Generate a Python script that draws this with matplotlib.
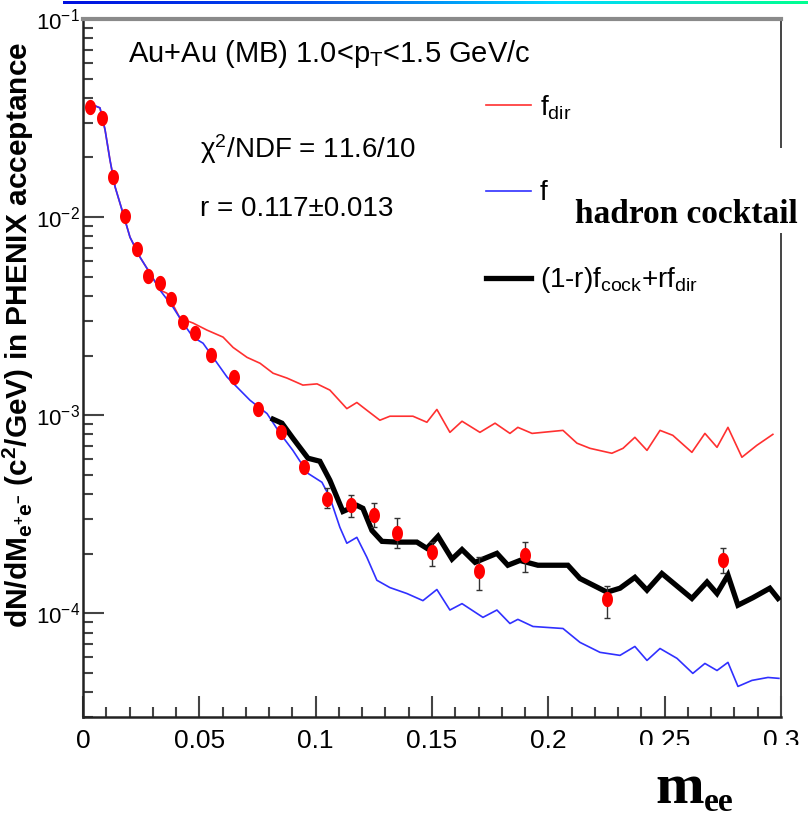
import matplotlib
matplotlib.use('Agg')
import matplotlib.pyplot as plt
import numpy as np
from matplotlib import font_manager
from matplotlib.ticker import FixedLocator, FixedFormatter, LogLocator, NullFormatter
from matplotlib.patches import Rectangle
from matplotlib.colors import LinearSegmentedColormap

# ---------------- data ----------------
# data points (red circles)
data_x = [0.003, 0.008, 0.013, 0.018, 0.023, 0.028, 0.033, 0.038, 0.043, 0.048,
          0.055, 0.065, 0.075, 0.085, 0.095, 0.105, 0.115, 0.125, 0.135, 0.150,
          0.170, 0.190, 0.225, 0.275]
data_y = [0.036, 0.0316, 0.0159, 0.0101, 0.0069, 0.00503, 0.00464, 0.00386, 0.00295, 0.0026,
          0.00201, 0.00156, 0.00107, 0.00082, 0.000546, 0.00038, 0.000351, 0.000313, 0.000254, 0.000203,
          0.000163, 0.000196, 0.000118, 0.000185]
err_lo = [0, 0, 0, 0, 0, 0, 0, 0, 0, 0,
          0, 0, 0, 0, 0, 0.000041, 0.000045, 0.000041, 0.000041, 0.000030,
          0.000032, 0.000035, 0.0000236, 0.000026]
err_hi = [0, 0, 0, 0, 0, 0, 0, 0, 0, 0,
          0, 0, 0, 0, 0, 0.000047, 0.000043, 0.000047, 0.000048, 0.000025,
          0.000029, 0.000033, 0.000020, 0.000028]

# hadron cocktail (blue)
cock_x = [0.0043, 0.0073, 0.0095, 0.0116, 0.0138, 0.0168, 0.0202, 0.0245, 0.0288, 0.0331,
          0.0387, 0.0430, 0.0473, 0.0516, 0.0559, 0.0619, 0.0718, 0.0791, 0.0847, 0.0902,
          0.0967, 0.1027, 0.1061, 0.1104, 0.1134, 0.1177, 0.1220, 0.1263, 0.1319, 0.1392,
          0.1461, 0.1521, 0.1577, 0.1629, 0.1719, 0.1779, 0.1835, 0.1869, 0.1934, 0.2063,
          0.2136, 0.2222, 0.2308, 0.2372, 0.2424, 0.2480, 0.2553, 0.2621, 0.2673, 0.2725,
          0.2772, 0.2815, 0.2875, 0.2944, 0.2991]
cock_y = [0.0368, 0.0356, 0.0275, 0.0194, 0.0142, 0.01084, 0.00792, 0.00628, 0.00521, 0.00428,
          0.00351, 0.00292, 0.00248, 0.00231, 0.00196, 0.00156, 0.00119, 0.00102, 0.00081, 0.000665,
          0.000509, 0.000459, 0.000385, 0.000272, 0.000226, 0.000242, 0.000192, 0.000147, 0.000135, 0.000126,
          0.000116, 0.000132, 0.000104, 0.000112, 0.0000955, 0.000104, 0.0000889, 0.0000933, 0.0000859, 0.0000839,
          0.0000714, 0.0000636, 0.0000614, 0.0000681, 0.0000579, 0.0000665, 0.0000593, 0.0000498, 0.0000559, 0.0000515,
          0.0000566, 0.0000428, 0.0000459, 0.0000475, 0.000047]

# direct photon (red)
dir_x = [0.0043, 0.0073, 0.0095, 0.0116, 0.0138, 0.0168, 0.0202, 0.0245, 0.0288, 0.0331,
         0.0361, 0.0417, 0.0473, 0.0533, 0.0602, 0.0645, 0.0705, 0.0761, 0.0817, 0.0877,
         0.0945, 0.1006, 0.1061, 0.1134, 0.1177, 0.1220, 0.1276, 0.1319, 0.1418, 0.1478,
         0.1521, 0.1577, 0.1629, 0.1706, 0.1771, 0.1835, 0.1869, 0.1930, 0.2063, 0.2123,
         0.2179, 0.2273, 0.2321, 0.2372, 0.2424, 0.2480, 0.2535, 0.2617, 0.2673, 0.2725,
         0.2772, 0.2832, 0.2896, 0.2965]
dir_y = [0.0368, 0.0356, 0.0275, 0.0194, 0.0142, 0.01084, 0.00792, 0.00628, 0.00521, 0.00428,
         0.00413, 0.00309, 0.00292, 0.00269, 0.00248, 0.0022, 0.00196, 0.00183, 0.00163, 0.00154,
         0.00142, 0.00144, 0.00134, 0.00108, 0.00116, 0.00106, 0.000944, 0.000989, 0.000989, 0.000922,
         0.00107, 0.00082, 0.000933, 0.00082, 0.000912, 0.00081, 0.000869, 0.00081, 0.000839, 0.000723,
         0.000681, 0.000643, 0.000681, 0.000774, 0.000665, 0.000839, 0.000792, 0.00065, 0.00081, 0.000689,
         0.000869, 0.000614, 0.000705, 0.000801]

# fit (black)
fit_x = [0.0817, 0.0855, 0.0902, 0.0967, 0.1018, 0.1061, 0.1117, 0.1177, 0.1203, 0.1242,
         0.1285, 0.1349, 0.1435, 0.1478, 0.1526, 0.1586, 0.1629, 0.1685, 0.1779, 0.1826,
         0.1878, 0.1955, 0.2084, 0.2136, 0.2252, 0.2308, 0.2372, 0.2424, 0.2488, 0.2617,
         0.2682, 0.2725, 0.2772, 0.2815, 0.2879, 0.2952, 0.2987]
fit_y = [0.000955, 0.000912, 0.000766, 0.000607, 0.000586, 0.00047, 0.000327, 0.000351, 0.000339, 0.000262,
         0.000231, 0.000229, 0.000229, 0.000213, 0.000245, 0.000188, 0.00021, 0.000181, 0.000201, 0.000175,
         0.000185, 0.000175, 0.000175, 0.00015, 0.000128, 0.000134, 0.000152, 0.000131, 0.000159, 0.000119,
         0.000144, 0.000126, 0.000156, 0.00011, 0.00012, 0.000134, 0.000119]

xtick_vals = [0, 0.05, 0.1, 0.15, 0.2, 0.25, 0.3]
xtick_labels = ['0', '0.05', '0.1', '0.15', '0.2', '0.25', '0.3']
legend_labels = ['f$_{\\mathrm{dir}}$', 'f', '(1-r)f$_{\\mathrm{cock}}$+rf$_{\\mathrm{dir}}$']

# ---------------- fonts ----------------
names = {f.name for f in font_manager.fontManager.ttflist}
def pick(*cands):
    for c in cands:
        if c in names:
            return c
    return 'DejaVu Sans'
SANS = pick('Liberation Sans', 'Arial', 'DejaVu Sans')
NARROW = pick('Liberation Sans Narrow', 'DejaVu Sans Condensed', 'Liberation Sans')
SERIF = pick('Liberation Serif', 'DejaVu Serif')

plt.rcParams['font.family'] = [SANS, 'DejaVu Sans']
plt.rcParams['mathtext.fontset'] = 'custom'
plt.rcParams['mathtext.rm'] = SANS
plt.rcParams['mathtext.it'] = SANS + ':italic'
plt.rcParams['mathtext.bf'] = SANS + ':bold'

# ---------------- figure ----------------
W, H = 808, 819
fig = plt.figure(figsize=(W / 100, H / 100), dpi=100)
ax = fig.add_axes([83 / W, 1 - 717 / H, 698 / W, 698 / H])

red = '#ff3030'
blue = '#3030ff'

l_dir, = ax.plot(dir_x, dir_y, color=red, lw=1.2, zorder=2)
l_cock, = ax.plot(cock_x, cock_y, color=blue, lw=1.2, zorder=2)
l_fit, = ax.plot(fit_x, fit_y, color='black', lw=3.8, zorder=3, solid_joinstyle='miter')

dx = np.array(data_x); dy = np.array(data_y)
elo = np.array(err_lo); ehi = np.array(err_hi)
m = (elo > 0) | (ehi > 0)
ax.errorbar(dx[m], dy[m], yerr=[elo[m], ehi[m]], fmt='none', ecolor='#333333',
            elinewidth=1.0, capsize=2.5, capthick=1.0, zorder=4)
t = np.linspace(0, 2 * np.pi, 41)
ell = list(zip(0.72 * np.cos(t), np.sin(t)))
ax.plot(dx, dy, linestyle='none', marker=ell, markersize=11, color='#ff0000',
        markeredgewidth=0, zorder=5)

ax.set_yscale('log')
ax.set_xlim(0, 0.3)
ax.set_ylim(3e-5, 0.1)

ax.xaxis.set_major_locator(FixedLocator(xtick_vals))
ax.xaxis.set_major_formatter(FixedFormatter(xtick_labels))
ax.xaxis.set_minor_locator(FixedLocator(np.arange(0, 0.3001, 0.01)))
ax.yaxis.set_major_locator(LogLocator(base=10, numticks=10))
ax.yaxis.set_minor_locator(LogLocator(base=10, subs=np.arange(2, 10), numticks=20))
ax.yaxis.set_minor_formatter(NullFormatter())

ax.tick_params(which='both', direction='in', top=False, right=False, color='#444444', width=1.5)
ax.tick_params(which='major', length=15)
ax.tick_params(which='minor', length=7.5)
ax.tick_params(axis='x', which='major', pad=9, labelsize=19)
ax.tick_params(axis='y', which='major', pad=2, labelsize=16)
for lab in ax.get_xticklabels():
    lab.set_fontfamily([NARROW, 'DejaVu Sans'])
for lab in ax.get_yticklabels():
    lab.set_fontfamily([NARROW, 'DejaVu Sans'])

ax.spines['top'].set(color='#8a8a8a', linewidth=3.0)
ax.spines['left'].set(color='#222222', linewidth=1.8)
ax.spines['bottom'].set(color='#222222', linewidth=1.8)
ax.spines['right'].set(color='#444444', linewidth=1.4)

ax.set_ylabel('dN/dM$_{\\mathbf{e^{+}e^{-}}}$ (c$^{\\mathbf{2}}$/GeV) in PHENIX acceptance',
              fontsize=21.5, fontweight='bold')
ax.yaxis.label.set_va('center')
ax.yaxis.set_label_coords((18 - 83) / 698, 1 - (335 - 19) / 698)

# annotations
fig.text(128 / W, 1 - 62 / H, 'Au+Au (MB) 1.0<p$_{\\mathrm{T}}$<1.5 GeV/c', fontsize=21, va='baseline')
fig.text(200 / W, 1 - 158 / H, '$\\mathrm{\\chi}^{2}$/NDF = 11.6/10', fontsize=20, va='baseline')
fig.text(200 / W, 1 - 216 / H, 'r = 0.117\u00b10.013', fontsize=20, va='baseline')

ax.legend([l_dir, l_cock, l_fit], legend_labels, loc='upper left',
          bbox_to_anchor=((486 - 83) / 698, 1 - (93 - 19) / 698), frameon=False,
          fontsize=20, handlelength=1.62, handletextpad=0.32, labelspacing=2.12,
          borderpad=0, borderaxespad=0)

# overlay boxes and text pasted on the figure
fig.add_artist(Rectangle((560 / W, 1 - 233 / H), 248 / W, 85 / H, transform=fig.transFigure,
                         facecolor='white', edgecolor='none', zorder=5))
fig.text(575 / W, 1 - 223 / H, 'hadron cocktail', fontsize=24, fontweight='bold',
         family=[SERIF, 'DejaVu Serif'], va='baseline', zorder=6)
fig.add_artist(Rectangle((600 / W, 0), 208 / W, 74 / H, transform=fig.transFigure,
                         facecolor='white', edgecolor='none', zorder=5))
fig.text(655 / W, 1 - 803 / H, 'm', fontsize=42, fontweight='bold',
         family=[SERIF, 'DejaVu Serif'], va='baseline', zorder=6)
fig.text(704 / W, 1 - 811 / H, 'ee', fontsize=24, fontweight='bold',
         family=[SERIF, 'DejaVu Serif'], va='baseline', zorder=6)

# gradient rule on top
gax = fig.add_axes([63 / W, 1 - 4 / H, 745 / W, 3 / H])
cmap = LinearSegmentedColormap.from_list('rule', ['#0010e0', '#0050f0', '#00d8ff', '#00ff90'])
gax.imshow(np.linspace(0, 1, 256)[None, :], aspect='auto', cmap=cmap)
gax.axis('off')

fig.savefig('out.png', dpi=100)
